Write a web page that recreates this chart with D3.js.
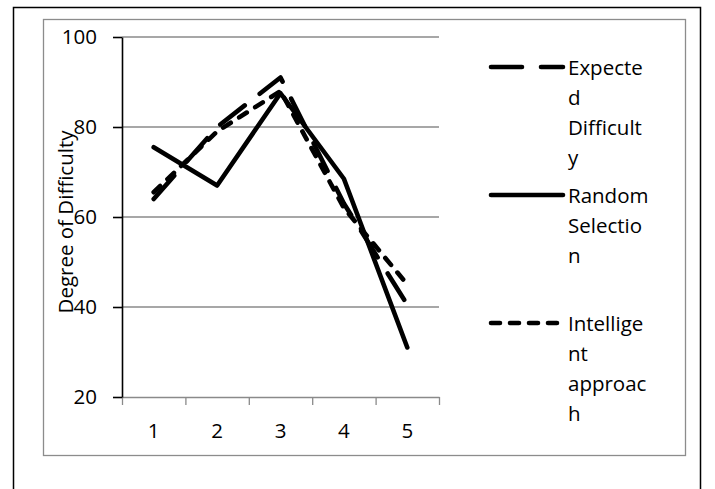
<!DOCTYPE html>
<html>
<head>
<meta charset="utf-8">
<script src="https://cdn.jsdelivr.net/npm/d3@7"></script>
<style>
  html, body { margin: 0; padding: 0; background: #fff; }
  svg { display: block; }
  text { font-family: "Open Sans", "Noto Sans", sans-serif; fill: #000; }
</style>
</head>
<body>
<svg id="chart" width="715" height="489"></svg>
<script>
// Question sets and the difficulty level of each set
const categories = [1, 2, 3, 4, 5];
const expectedDifficulty = [64, 80, 91, 63, 40.5];
const randomSelection = [75.5, 67, 87.5, 68.5, 31];
const intelligentApproach = [65.5, 79, 88, 62, 45];
const yTicks = [20, 40, 60, 80, 100];
const seriesNames = ["Expected Difficulty", "Random Selection", "Intelligent approach"];
const legendLines = [["Expecte", "d", "Difficult", "y"], ["Random", "Selectio", "n"], ["Intellige", "nt", "approac", "h"]];

const svg = d3.select("#chart");
const FONT = 20.5;

// frames
svg.append("rect").attr("x", 13.5).attr("y", 7.5).attr("width", 687).attr("height", 520)
  .attr("fill", "none").attr("stroke", "#000").attr("stroke-width", 1.5);
svg.append("rect").attr("x", 43.5).attr("y", 19.5).attr("width", 642).attr("height", 436)
  .attr("fill", "#fff").attr("stroke", "#8c8c8c").attr("stroke-width", 1.3);

const plot = { left: 122, right: 439, top: 37, bottom: 397 };
const x = d3.scaleBand().domain(categories).range([plot.left, plot.right]);
const xEdge = d3.scaleLinear().domain([0.5, categories.length + 0.5]).range([plot.left, plot.right]);
const y = d3.scaleLinear().domain([20, 100]).range([plot.bottom, plot.top]);

// horizontal gridlines
svg.append("g").selectAll("line").data(yTicks.filter(v => v > 20)).join("line")
  .attr("x1", plot.left).attr("x2", plot.right)
  .attr("y1", d => y(d)).attr("y2", d => y(d))
  .attr("stroke", "#8a8a8a").attr("stroke-width", 1.3);

// x axis: line and ticks between categories
const xAxis = svg.append("g").attr("transform", `translate(0,${plot.bottom})`)
  .call(d3.axisBottom(xEdge).tickValues(d3.range(0.5, categories.length + 1, 1)).tickSize(8).tickFormat("").tickSizeOuter(0));
xAxis.selectAll("path, line").attr("stroke", "#8a8a8a").attr("stroke-width", 1.3);

// category labels
const xLabels = svg.append("g").attr("transform", `translate(0,${plot.bottom})`)
  .call(d3.axisBottom(x).tickSize(0).tickPadding(26));
xLabels.select(".domain").remove();
xLabels.selectAll("text").attr("font-size", FONT).attr("font-family", "Open Sans, sans-serif").attr("fill", "#000");

// y axis
const yAxis = svg.append("g").attr("transform", `translate(${plot.left},0)`)
  .call(d3.axisLeft(y).tickValues(yTicks).tickSize(9).tickPadding(16).tickSizeOuter(0));
yAxis.select(".domain").attr("stroke", "#000").attr("stroke-width", 1.6);
yAxis.selectAll(".tick line").attr("stroke", "#000").attr("stroke-width", 1.6);
yAxis.selectAll("text").attr("font-size", FONT).attr("font-family", "Open Sans, sans-serif").attr("fill", "#000");

// axis title
svg.append("text")
  .attr("transform", "translate(73,222) rotate(-90)")
  .attr("text-anchor", "middle").attr("font-size", FONT)
  .text("Degree of Difficulty");

// series
const series = [
  { name: seriesNames[0], values: expectedDifficulty, dash: "31,19" },
  { name: seriesNames[1], values: randomSelection, dash: null },
  { name: seriesNames[2], values: intelligentApproach, dash: "9,10" }
];
const line = d3.line().x((d, i) => x(categories[i]) + x.bandwidth() / 2).y(d => y(d));

svg.append("g").selectAll("path").data(series).join("path")
  .attr("d", d => line(d.values))
  .attr("fill", "none").attr("stroke", "#000").attr("stroke-width", 4.6)
  .attr("stroke-linecap", "round").attr("stroke-linejoin", "round")
  .attr("stroke-dasharray", d => d.dash);

// legend
const legendY = [67, 195, 323];
const legend = svg.append("g").selectAll("g").data(series).join("g")
  .attr("transform", (d, i) => `translate(0,${legendY[i]})`);
legend.append("line")
  .attr("x1", 491).attr("x2", 563).attr("y1", 0).attr("y2", 0)
  .attr("stroke", "#000").attr("stroke-width", 4.6).attr("stroke-linecap", "round")
  .attr("stroke-dasharray", d => d.dash);
legend.each(function(d, i) {
  d3.select(this).selectAll("text").data(legendLines[i]).join("text")
    .attr("x", 568).attr("y", (t, j) => j * 30 + 7.5)
    .attr("font-size", FONT)
    .text(t => t);
});
</script>
</body>
</html>
